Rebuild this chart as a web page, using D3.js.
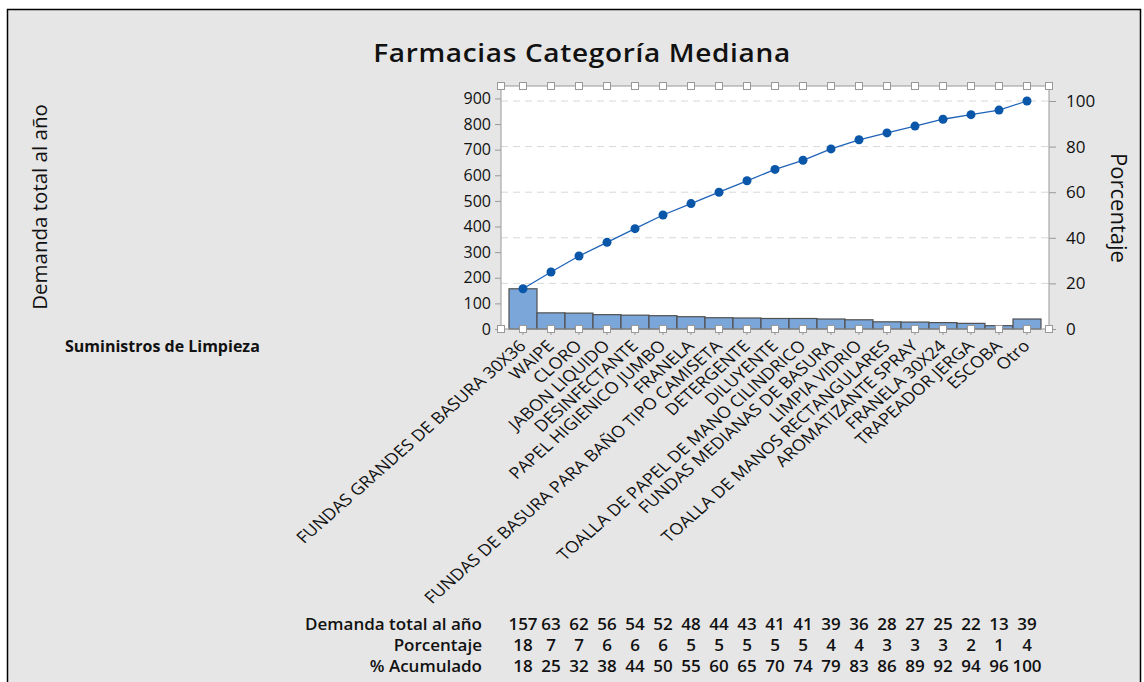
<!DOCTYPE html>
<html><head><meta charset="utf-8">
<script src="https://cdn.jsdelivr.net/npm/d3@7"></script>
<style>
body{margin:0;background:#fff;}
svg{display:block;font-family:"Open Sans","Noto Sans",sans-serif;}
</style></head>
<body>
<svg id="c" width="1144" height="682"></svg>
<script>
const categories = ["FUNDAS GRANDES DE BASURA 30X36","WAIPE","CLORO","JABON LIQUIDO","DESINFECTANTE","PAPEL HIGIENICO JUMBO","FRANELA","FUNDAS DE BASURA PARA BAÑO TIPO CAMISETA","DETERGENTE","DILUYENTE","TOALLA DE PAPEL DE MANO CILINDRICO","FUNDAS MEDIANAS DE BASURA","LIMPIA VIDRIO","TOALLA DE MANOS RECTANGULARES","AROMATIZANTE SPRAY","FRANELA 30X24","TRAPEADOR JERGA","ESCOBA","Otro"];
const demanda = [157,63,62,56,54,52,48,44,43,41,41,39,36,28,27,25,22,13,39];
const porcentaje = [18,7,7,6,6,6,5,5,5,5,5,4,4,3,3,3,2,1,4];
const acumulado = [18,25,32,38,44,50,55,60,65,70,74,79,83,86,89,92,94,96,100];
const leftTicks = [0,100,200,300,400,500,600,700,800,900];
const rightTicks = [0,20,40,60,80,100];
const title = "Farmacias Categoría Mediana";
const yTitle = "Demanda total al año";
const y2Title = "Porcentaje";
const xTitle = "Suministros de Limpieza";
const rowLabels = ["Demanda total al año","Porcentaje","% Acumulado"];

const total = d3.sum(demanda);
const svg = d3.select("#c");
const P = {l:501, r:1049, t:86, b:329};
const SX = 1.13; // horizontal stretch seen in the reference text

svg.append("rect").attr("x",7.5).attr("y",9.5).attr("width",1133).attr("height",690)
  .attr("fill","#e6e6e6").attr("stroke","#000").attr("stroke-width",1.5);

svg.append("text").attr("transform",`translate(582,62) scale(1.12,1)`).attr("text-anchor","middle")
  .attr("font-size",25).attr("font-weight",600).attr("letter-spacing",0.6).attr("fill","#111").text(title);

svg.append("rect").attr("x",P.l).attr("y",P.t).attr("width",P.r-P.l).attr("height",P.b-P.t).attr("fill","#fff");

const x = d3.scaleBand().domain(categories).range([509,1041]).padding(0);
const yR = d3.scaleLinear().domain([0,100]).range([P.b,101]);
const yL = d3.scaleLinear().domain([0,total]).range([P.b,101]);
const bw = x.bandwidth();

// gridlines at percent ticks
svg.append("g").selectAll("line").data(rightTicks.filter(d=>d>0)).join("line")
  .attr("x1",P.l).attr("x2",P.r).attr("y1",d=>yR(d)).attr("y2",d=>yR(d))
  .attr("stroke","#d8d8d8").attr("stroke-dasharray","7,5").attr("stroke-width",1);

// bars
svg.append("g").selectAll("rect").data(demanda).join("rect")
  .attr("x",(d,i)=>x(categories[i])).attr("width",bw)
  .attr("y",d=>yL(d)).attr("height",d=>P.b-yL(d))
  .attr("fill","#7ba6da").attr("stroke","#505050").attr("stroke-width",1.2);

// cumulative line
const pts = acumulado.map((v,i)=>[x(categories[i])+bw/2, yR(v)]);
pts[0][1] = yL(demanda[0]);
svg.append("path").attr("d",d3.line()(pts)).attr("fill","none").attr("stroke","#1f63b8").attr("stroke-width",1.3);
svg.append("g").selectAll("circle").data(pts).join("circle")
  .attr("cx",d=>d[0]).attr("cy",d=>d[1]).attr("r",4.5).attr("fill","#0a56a8");

// axes
const axL = d3.axisLeft(yL).tickValues(leftTicks).tickSize(6).tickPadding(4);
const gL = svg.append("g").attr("transform",`translate(${P.l},0)`).call(axL);
const axR = d3.axisRight(yR).tickValues(rightTicks).tickSize(7).tickPadding(10);
const gR = svg.append("g").attr("transform",`translate(${P.r},0)`).call(axR);
[gL,gR].forEach(g=>{
  g.select(".domain").remove();
  g.selectAll("line").attr("stroke","#999");
  g.selectAll("text").attr("font-size",16).attr("fill","#111").attr("font-family","Open Sans, sans-serif");
});
gR.selectAll("text").attr("font-size",17);
// frame lines
svg.append("line").attr("x1",P.l).attr("x2",P.l).attr("y1",P.t).attr("y2",P.b).attr("stroke","#999");
svg.append("line").attr("x1",P.r).attr("x2",P.r).attr("y1",P.t).attr("y2",P.b).attr("stroke","#999");
svg.append("line").attr("x1",P.l).attr("x2",P.r).attr("y1",P.t).attr("y2",P.t).attr("stroke","#999");
svg.append("line").attr("x1",P.l).attr("x2",P.r).attr("y1",P.b).attr("y2",P.b).attr("stroke","#999");

// bottom ticks
svg.append("g").selectAll("line").data(categories).join("line")
  .attr("x1",d=>x(d)+bw/2).attr("x2",d=>x(d)+bw/2).attr("y1",P.b).attr("y2",P.b+6).attr("stroke","#999");

// handles
const hx = [P.l].concat(categories.map(d=>x(d)+bw/2)).concat([P.r]);
[P.t,P.b].forEach(yy=>{
  svg.append("g").selectAll("rect").data(hx).join("rect")
    .attr("x",d=>d-3.5).attr("y",yy-3.5).attr("width",7).attr("height",7)
    .attr("fill","#fff").attr("stroke","#999").attr("stroke-width",1);
});

// category labels
svg.append("g").selectAll("text").data(categories).join("text")
  .attr("transform",d=>`translate(${x(d)+bw/2+4},${P.b+18}) scale(${SX},1) rotate(-45)`)
  .attr("text-anchor","end").attr("font-size",16).attr("fill","#111").text(d=>d);

// axis titles
svg.append("text").attr("transform","translate(47,207) rotate(-90)").attr("text-anchor","middle")
  .attr("font-size",20.5).attr("fill","#111").text(yTitle);
svg.append("text").attr("transform","translate(1111,208) rotate(90)").attr("text-anchor","middle")
  .attr("font-size",22).attr("fill","#111").text(y2Title);
svg.append("text").attr("x",65).attr("y",352).attr("font-size",16).attr("font-weight",700).attr("fill","#111").text(xTitle);

// table
const rows = [demanda, porcentaje, acumulado];
const rowY = [630,651,672];
rows.forEach((arr,ri)=>{
  svg.append("text").attr("x",482).attr("y",rowY[ri]).attr("text-anchor","end")
    .attr("font-size",17).attr("font-weight",600).attr("fill","#111").text(rowLabels[ri]);
  svg.append("g").selectAll("text").data(arr).join("text")
    .attr("x",(d,i)=>x(categories[i])+bw/2).attr("y",rowY[ri]).attr("text-anchor","middle")
    .attr("font-size",17).attr("font-weight",600).attr("fill","#111").text(d=>d);
});
</script>
</body></html>
